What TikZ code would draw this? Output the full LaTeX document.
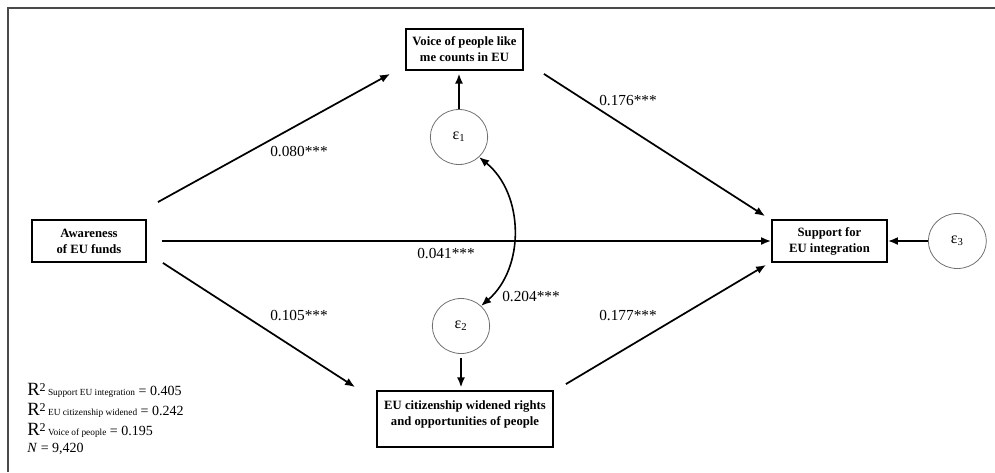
\documentclass[tikz,border=0pt]{standalone}
\usepackage{fontspec}
\setmainfont{Liberation Serif}
\usetikzlibrary{arrows.meta,positioning,shapes.geometric}
\definecolor{frameGray}{HTML}{4A4A4A}
\definecolor{circleGray}{HTML}{707070}
\tikzset{%
  pathBox/.style={%
    rectangle,
    draw=black,
    line width=1.4pt,
    font=\fontsize{9.5}{12}\selectfont\bfseries,
    align=center,
    inner sep=0pt
  },
  errCircle/.style={%
    ellipse,
    draw=circleGray,
    line width=0.6pt,
    minimum width=43pt,
    minimum height=41.25pt,
    inner sep=0pt,
    font=\fontsize{12}{14}\selectfont
  },
  pathArrow/.style={%
    -{Latex[length=7.5pt,width=6pt]},
    line width=1.3pt
  },
  covArrow/.style={%
    {Latex[length=7.5pt,width=6pt]}-{Latex[length=7.5pt,width=6pt]},
    line width=1.2pt
  },
  coefLabel/.style={%
    font=\fontsize{11.5}{13}\selectfont,
    inner sep=0pt
  }
}

\begin{document}
\begin{tikzpicture}[x=0.75pt,y=-0.75pt]
  \useasboundingbox (0,0) rectangle (995,472);
  % frame
  \draw[frameGray, line width=1.5pt] (995,8) -- (8,8) -- (8,472);

  % observed variables
  \node[pathBox, minimum width=85.5pt, minimum height=31.5pt] (aware) at (89,241) {Awareness\\of EU funds};
  \node[pathBox, minimum width=87.75pt, minimum height=30.75pt] (voice) at (464.5,49.5) {Voice of people like\\me counts in EU};
  \node[pathBox, minimum width=86.25pt, minimum height=31.5pt] (support) at (829.5,241) {Support for\\EU integration};
  \node[pathBox, minimum width=132pt, minimum height=42pt] (citizen) at (465,419) {EU citizenship widened rights\\and opportunities of people\\[-3pt]\mbox{}};

  % error terms
  \node[errCircle] (eps1) at (459,137) {ε\textsubscript{1}};
  \node[errCircle] (eps2) at (461,326) {ε\textsubscript{2}};
  \node[errCircle, minimum width=43.5pt, right=30pt of support] (eps3) {ε\textsubscript{3}};

  % paths
  \draw[pathArrow] ([shift={(11,-17)}]aware.north east) -- ([shift={(-15,3)}]voice.south west);
  \draw[pathArrow, shorten <=11pt] (aware.east) -- (support.west);
  \draw[pathArrow] ([shift={(16,0)}]aware.south east) -- ([shift={(-21,-3)}]citizen.north west);
  \draw[pathArrow] ([shift={(20,3)}]voice.south east) -- ([shift={(-6,-3)}]support.north west);
  \draw[pathArrow] ([shift={(12,-6)}]citizen.north east) -- ([shift={(-5,2)}]support.south west);
  \draw[pathArrow, shorten >=2pt] (eps1.north) -- (eps1.north |- voice.south);
  \draw[pathArrow, shorten <=3pt, shorten >=2pt] (eps2.south) -- (eps2.south |- citizen.north);
  \draw[pathArrow] (eps3) -- (support);
  \draw[covArrow] (eps1.-45) to[bend left=50] (eps2.45);

  % coefficients
  \node[coefLabel] (c080) at (299,152) {0.080***};
  \node[coefLabel] (c176) at (628,101) {0.176***};
  \node[coefLabel] (c041) at (446,254) {0.041***};
  \node[coefLabel] (c204) at (531,297) {0.204***};
  \node[coefLabel] (c105) at (299,316) {0.105***};
  \node[coefLabel] (c177) at (628,316) {0.177***};

  % fit statistics
  \node[anchor=north west, align=left, inner sep=0pt, font=\fontsize{10.5}{15}\selectfont] (stats) at (27,383)
    {{\fontsize{14}{15}\selectfont R}\raisebox{3pt}{\fontsize{9}{10}\selectfont 2}\,{\fontsize{7}{8}\selectfont Support EU integration} = 0.405\\
     {\fontsize{14}{15}\selectfont R}\raisebox{3pt}{\fontsize{9}{10}\selectfont 2}\,{\fontsize{7}{8}\selectfont EU citizenship widened} = 0.242\\
     {\fontsize{14}{15}\selectfont R}\raisebox{3pt}{\fontsize{9}{10}\selectfont 2}\,{\fontsize{7}{8}\selectfont Voice of people} = 0.195\\[-2pt]
     \textit{N} = 9,420};
\end{tikzpicture}
\end{document}
